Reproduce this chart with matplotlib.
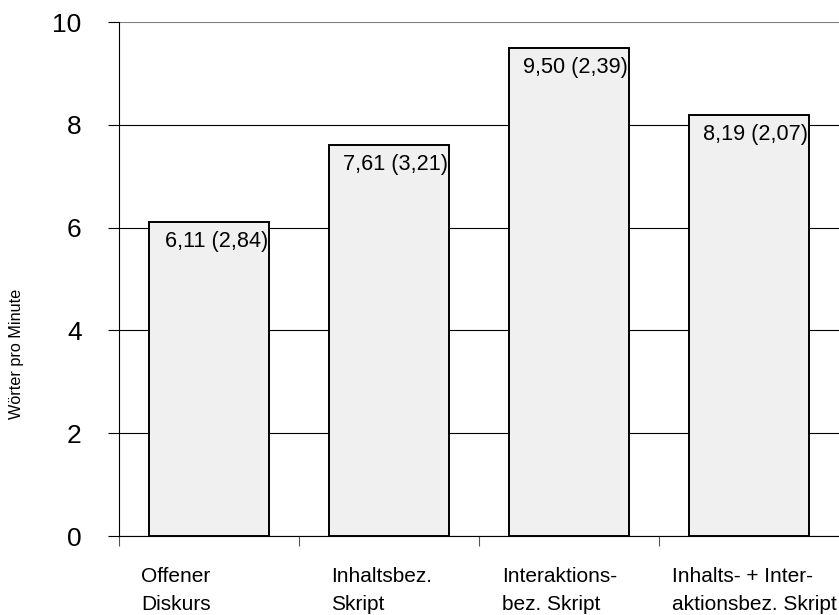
import matplotlib
matplotlib.use("Agg")
import matplotlib.pyplot as plt
import matplotlib.transforms as mtransforms

categories = ["Offener\nDiskurs", "Inhaltsbez.\nSkript", "Interaktions-\nbez. Skript", "Inhalts- + Inter-\naktionsbez. Skript"]
means = [6.11, 7.61, 9.50, 8.19]
sds = [2.84, 3.21, 2.39, 2.07]
yticks = [0, 2, 4, 6, 8, 10]

label_offsets = [-0.378, -0.322, -0.372, -0.428]

plt.rcParams['font.family'] = ['Liberation Sans', 'DejaVu Sans']

fig = plt.figure(figsize=(8.39, 6.15), dpi=100)
ax = fig.add_axes([119/839, 79/615, 720/839, 514/615])

x = list(range(len(means)))
bars = ax.bar(x, means, width=0.672, color='#f0f0f0', edgecolor='black', linewidth=1.4, zorder=3)

ax.set_xlim(-0.5, len(means) - 0.5)
ax.set_ylim(0, 10)
ax.set_yticks(yticks)
ax.set_yticklabels([str(v) for v in yticks], fontsize=19)
ax.yaxis.grid(True, color='black', linewidth=0.8)
ax.get_ygridlines()[-1].set_color('#808080')
ax.set_axisbelow(True)
ax.tick_params(axis='y', direction='out', length=8, width=0.8, pad=19)

ax.set_xticks([i - 0.5 for i in x])
ax.set_xticklabels([])
ax.tick_params(axis='x', direction='out', length=7, width=0.8, color='#555555')

for s in ['top', 'right']:
    ax.spines[s].set_visible(False)
ax.spines['left'].set_linewidth(0.8)
ax.spines['bottom'].set_linewidth(0.8)

for i, (m, s) in enumerate(zip(means, sds)):
    txt = f"{m:.2f} ({s:.2f})".replace('.', ',')
    ax.annotate(txt, xy=(i + 0.336, m), xytext=(-1, -6.5), textcoords='offset points',
                ha='right', va='top', fontsize=15.6, zorder=4)

trans = mtransforms.blended_transform_factory(ax.transData, ax.transAxes)
for i, (c, off) in enumerate(zip(categories, label_offsets)):
    ax.text(i + off, -0.06, c, transform=trans, ha='left', va='top',
            fontsize=15, linespacing=1.6)

fig.text(17/839, 1 - 354/615, "Wörter pro Minute", rotation=90, ha='center', va='center', fontsize=11.7)

fig.savefig("out.png", dpi=100)
